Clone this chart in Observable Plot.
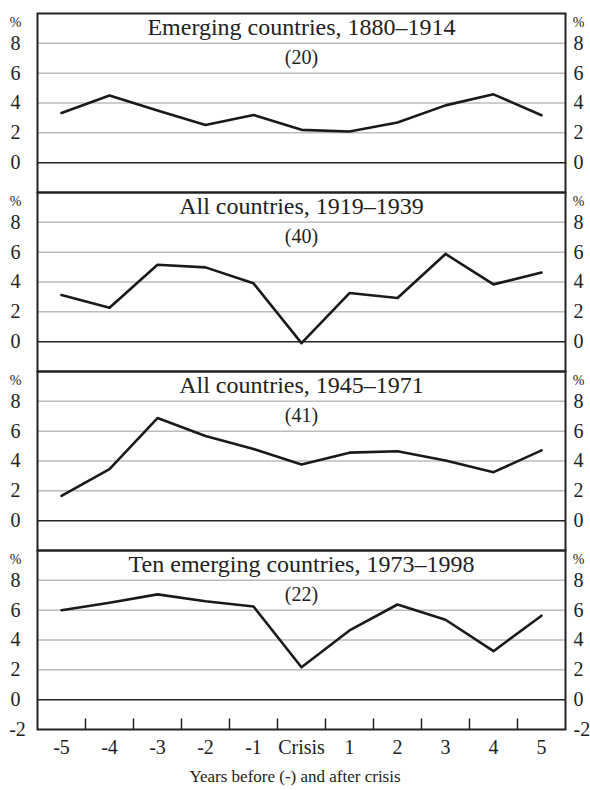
<!DOCTYPE html>
<html><head><meta charset="utf-8">
<script src="https://cdn.jsdelivr.net/npm/d3@7"></script>
<script src="https://cdn.jsdelivr.net/npm/@observablehq/plot@0.6"></script>
<style>
body{margin:0;background:#fff}
#cap{font-family:"Liberation Serif",serif;font-size:17px;text-align:center;width:590px;color:#222;line-height:22px}
</style>
</head><body><div id="chart"></div><div id="cap">Years before (-) and after crisis</div>
<script>
const years = [-5, -4, -3, -2, -1, 0, 1, 2, 3, 4, 5];
const xLabels = ["-5", "-4", "-3", "-2", "-1", "Crisis", "1", "2", "3", "4", "5"];
const panelTitles = ["Emerging countries, 1880–1914", "All countries, 1919–1939", "All countries, 1945–1971", "Ten emerging countries, 1973–1998"];
const panelCounts = ["(20)", "(40)", "(41)", "(22)"];
const emerging1880 = [3.33, 4.5, 3.5, 2.53, 3.2, 2.2, 2.09, 2.69, 3.84, 4.58, 3.18];
const all1919 = [3.13, 2.28, 5.16, 4.98, 3.91, -0.1, 3.26, 2.93, 5.88, 3.84, 4.63];
const all1945 = [1.66, 3.45, 6.88, 5.68, 4.8, 3.77, 4.56, 4.65, 4.04, 3.25, 4.71];
const ten1973 = [6.0, 6.5, 7.06, 6.6, 6.25, 2.17, 4.64, 6.38, 5.36, 3.25, 5.63];
const yTicks = [0, 2, 4, 6, 8];
const gridTicks = [2, 4, 6, 8];
const extraTick = -2;

const series = [emerging1880, all1919, all1945, ten1973];
const rows = panelTitles.flatMap((p, i) => years.map((x, j) => ({panel: p, x, y: series[i][j]})));
const titles = panelTitles.map((p, i) => ({panel: p, count: panelCounts[i]}));
const lastPanel = panelTitles[panelTitles.length - 1];
const halfTicks = years.slice(1).map(v => ({panel: lastPanel, x: v - 0.5}));
const bottomLabel = [{panel: lastPanel, v: extraTick}];

const H = 766, MT = 12, MB = 36;
const band = (H - MT - MB) / panelTitles.length;

const chart = Plot.plot({
  width: 590, height: H,
  marginTop: MT, marginBottom: MB, marginLeft: 37, marginRight: 25,
  style: {fontFamily: "Liberation Serif, serif", fontSize: "20px", color: "#222", background: "#fff"},
  x: {domain: [-5.5, 5.5]},
  y: {domain: [-2, 10]},
  fy: {domain: panelTitles, padding: 0, axis: null},
  marks: [
    Plot.ruleY(gridTicks, {stroke: "#bcbcbc", strokeWidth: 1.5}),
    Plot.ruleY([0], {stroke: "#222", strokeWidth: 1.5}),
    Plot.line(rows, {x: "x", y: "y", fy: "panel", stroke: "#1a1a1a", strokeWidth: 2.6}),
    Plot.text(titles, {fy: "panel", text: "panel", frameAnchor: "top", dy: 14, lineAnchor: "middle", fontSize: 24, fill: "#222"}),
    Plot.text(titles, {fy: "panel", text: "count", frameAnchor: "top", dy: 44, lineAnchor: "middle", fontSize: 20, fill: "#222"}),
    Plot.text(titles, {fy: "panel", text: () => "%", frameAnchor: "top-left", textAnchor: "middle", dx: -22, dy: 9, lineAnchor: "middle", fontSize: 14, fill: "#222"}),
    Plot.text(titles, {fy: "panel", text: () => "%", frameAnchor: "top-right", textAnchor: "middle", dx: 13, dy: 9, lineAnchor: "middle", fontSize: 14, fill: "#222"}),
    Plot.axisY(yTicks, {anchor: "left", tickSize: 0, tickPadding: 22, textAnchor: "middle", label: null, fontSize: 20}),
    Plot.axisY(yTicks, {anchor: "right", tickSize: 0, tickPadding: 8, label: null, fontSize: 20}),
    Plot.text(bottomLabel, {fy: "panel", y: "v", text: d => String(d.v), frameAnchor: "left", textAnchor: "middle", dx: -20, fontSize: 20, fill: "#222"}),
    Plot.text(bottomLabel, {fy: "panel", y: "v", text: d => String(d.v), frameAnchor: "right", textAnchor: "start", dx: 8, fontSize: 20, fill: "#222"}),
    Plot.ruleX(halfTicks, {x: "x", fy: "panel", stroke: "#222", strokeWidth: 1.5, insetTop: band - 11}),
    Plot.axisX(years, {anchor: "bottom", tickSize: 0, tickPadding: 10, label: null, fontSize: 20, tickFormat: d => xLabels[years.indexOf(d)]}),
    Plot.frame({stroke: "#222", strokeWidth: 2})
  ]
});
document.getElementById("chart").appendChild(chart);
</script>
</body></html>
